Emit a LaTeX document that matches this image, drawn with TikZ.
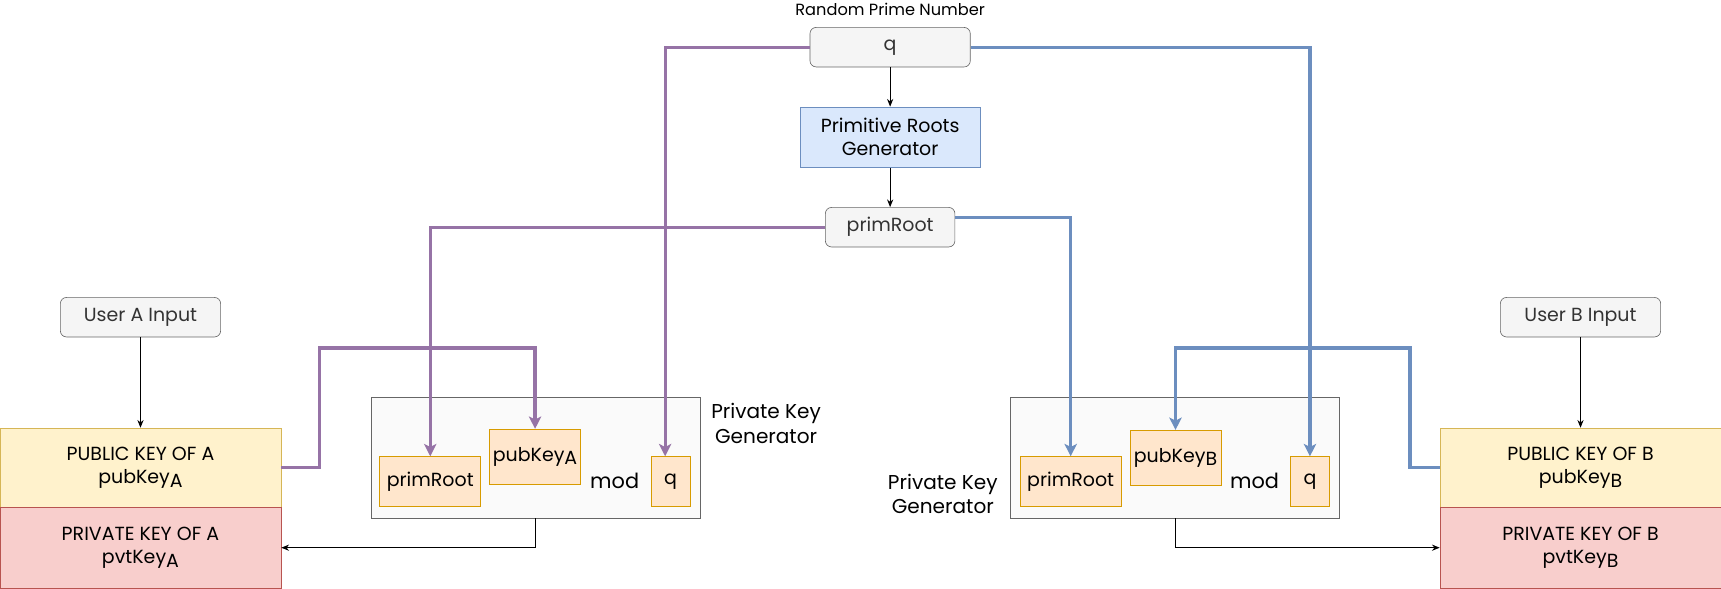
\documentclass[tikz,border=0pt]{standalone}
\usepackage{fontspec}
\setmainfont{Poppins}
\usetikzlibrary{arrows.meta,positioning,calc}

\definecolor{boxgrey}{HTML}{F5F5F5}
\definecolor{linegrey}{HTML}{666666}
\definecolor{textgrey}{HTML}{333333}
\definecolor{genfill}{HTML}{DAE8FC}
\definecolor{genline}{HTML}{6C8EBF}
\definecolor{pubfill}{HTML}{FFF2CC}
\definecolor{publine}{HTML}{D6B656}
\definecolor{pvtfill}{HTML}{F8CECC}
\definecolor{pvtline}{HTML}{B85450}
\definecolor{keyfill}{HTML}{FFE6CC}
\definecolor{keyline}{HTML}{D79B00}
\definecolor{panelfill}{HTML}{FAFAFA}
\definecolor{userA}{HTML}{9673A6}
\definecolor{userB}{HTML}{6C8EBF}

\begin{document}
\begin{tikzpicture}[x=0.025cm,y=-0.025cm,
    every node/.style={font=\fontsize{12.3}{15}\selectfont, align=center, inner sep=0pt},
    greybox/.style={draw=linegrey, fill=boxgrey, rounded corners=4pt, text=textgrey,
      minimum width=3.65cm, minimum height=0.9cm},
    pubbox/.style={draw=publine, fill=pubfill, minimum width=6.4cm, minimum height=1.8cm},
    pvtbox/.style={draw=pvtline, fill=pvtfill, minimum width=6.4cm, minimum height=1.85cm},
    panel/.style={draw=linegrey, fill=panelfill, minimum width=7.5cm, minimum height=2.75cm},
    keybox/.style={draw=keyline, fill=keyfill, minimum height=1.125cm},
    thinarrow/.style={-{Stealth[length=5pt,width=4pt]}, line width=0.6pt},
    pathA/.style={-{Stealth[length=8pt,width=8pt,inset=2pt]}, draw=userA, line width=2.1pt},
    pathB/.style={-{Stealth[length=8pt,width=8pt,inset=2pt]}, draw=userB, line width=2.1pt}]
  \useasboundingbox (0,0) rectangle (1568,536);

  % shared part
  \node[font=\fontsize{10.5}{12}\selectfont] (rpn) at (811,9) {Random Prime Number};
  \node[greybox] (q) at (811,43) {q};
  \node[draw=genline, fill=genfill, minimum width=4.1cm, minimum height=1.375cm] (prg) at (811,125) {Primitive Roots\\Generator};
  \node[greybox, minimum width=2.95cm] (root) at (811,207) {primRoot};
  \draw[thinarrow] (q) -- (prg);
  \draw[thinarrow] (prg) -- (root);

  % user A
  \node[greybox] (inA) at (128,289) {User A Input};
  \node[pubbox] (pubA) at (128,426) {PUBLIC KEY OF A\\pubKey\raisebox{-0.35ex}{A}};
  \node[pvtbox] (pvtA) at (128,499) {PRIVATE KEY OF A\\pvtKey\raisebox{-0.35ex}{A}};
  \node[panel] (genA) at (488,417) {};
  \node[font=\fontsize{13}{16}\selectfont] (genlabA) at (698,386) {Private Key\\Generator};
  \node[keybox, minimum width=2.3cm] (rootA) at (392,438.5) {primRoot};
  \node[keybox, minimum width=2.075cm, minimum height=1.25cm] (pkA) at (487.5,416) {pubKey\raisebox{-0.35ex}{A}};
  \node[font=\fontsize{13.5}{15}\selectfont] (modA) at (560,438) {mod};
  \node[keybox, minimum width=0.9cm] (qA) at (611,438.5) {q};
  \draw[thinarrow] (inA) -- (pubA);
  \draw[thinarrow] (genA.south) |- (pvtA.east);
  \draw[pathA] (q.west) -| ([xshift=-0.125cm]qA.north);
  \draw[pathA] (root.west) -| (rootA.north);
  \draw[pathA] (pubA.east) -- ++(35,0) |- (pkA.north |- 0,317) -- (pkA.north);

  % user B
  \node[greybox] (inB) at (1440,289) {User B Input};
  \node[pubbox] (pubB) at (1440,426) {PUBLIC KEY OF B\\pubKey\raisebox{-0.35ex}{B}};
  \node[pvtbox] (pvtB) at (1440,499) {PRIVATE KEY OF B\\pvtKey\raisebox{-0.35ex}{B}};
  \node[panel] (genB) at (1070.5,417) {};
  \node[font=\fontsize{13}{16}\selectfont] (genlabB) at (859,450) {Private Key\\Generator};
  \node[keybox, minimum width=2.3cm] (rootB) at (975.5,438.5) {primRoot};
  \node[keybox, minimum width=2.075cm, minimum height=1.25cm] (pkB) at (1071,417) {pubKey\raisebox{-0.35ex}{B}};
  \node[font=\fontsize{13.5}{15}\selectfont] (modB) at (1143,438) {mod};
  \node[keybox, minimum width=0.9cm] (qB) at (1193.5,438.5) {q};
  \draw[thinarrow] (inB) -- (pubB);
  \draw[thinarrow] (genB.south) |- (pvtB.west);
  \draw[pathB] (q.east) -| (qB.north);
  \draw[pathB] ($(root.east)+(0,-9)$) -| (rootB.north);
  \draw[pathB] (pubB.west) -- ++(-27,0) |- (pkB.north |- 0,317) -- (pkB.north);
\end{tikzpicture}
\end{document}
